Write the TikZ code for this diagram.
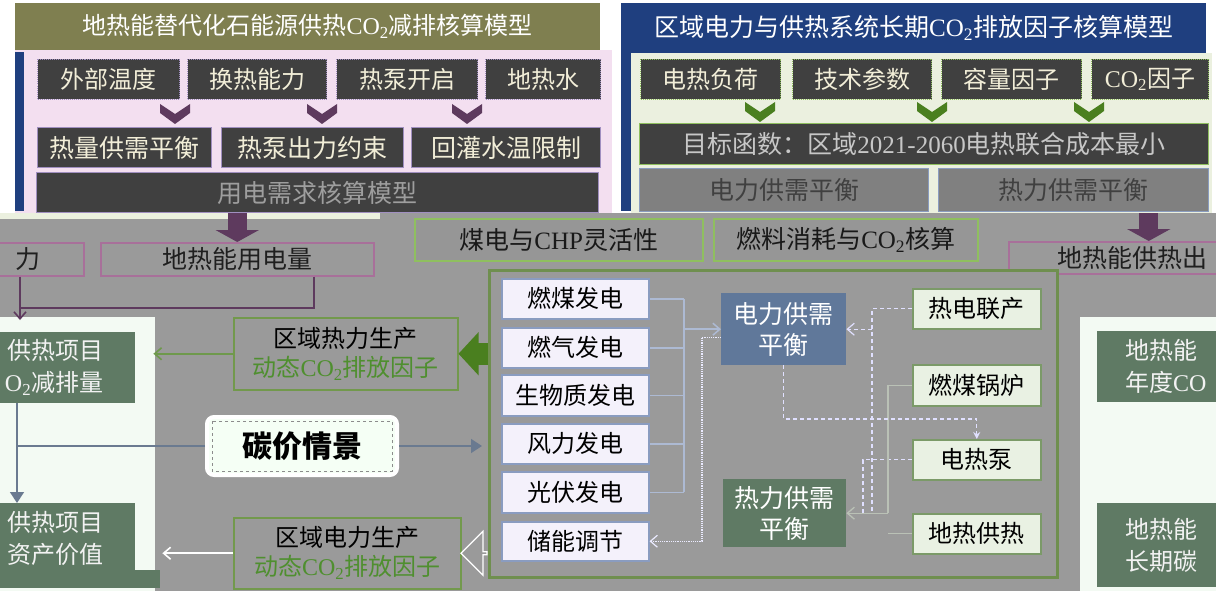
\documentclass[tikz,border=0pt]{standalone}
\usepackage{fontspec}
\setmainfont{Noto Sans CJK SC}
\newfontfamily\lat{Liberation Serif}
\usetikzlibrary{positioning,arrows.meta,shapes.arrows,calc}
\newcommand{\cotwo}{{\lat CO}\textsubscript{\lat 2}}
\definecolor{olivehd}{HTML}{7F7F50}
\definecolor{pinkbg}{HTML}{F3DFF0}
\definecolor{navyhd}{HTML}{1F3F7F}
\definecolor{greenbg}{HTML}{EBF0DF}
\definecolor{darkbox}{HTML}{404040}
\definecolor{lilac}{HTML}{A08FC0}
\definecolor{plum}{HTML}{5E3A5E}
\definecolor{leaf}{HTML}{4A7F1F}
\definecolor{midgray}{HTML}{9A9A9A}
\definecolor{boxgray}{HTML}{808080}
\definecolor{paleblue}{HTML}{F4F1FB}
\definecolor{steelline}{HTML}{8A9CC0}
\definecolor{slate}{HTML}{60789A}
\definecolor{moss}{HTML}{5F7A64}
\definecolor{mint}{HTML}{E9F1E3}
\definecolor{mossline}{HTML}{7B9A68}
\definecolor{frame}{HTML}{6F8F4F}
\definecolor{paper}{HTML}{F3FAF3}
\definecolor{rosy}{HTML}{A8709A}
\definecolor{arrowslate}{HTML}{6A7A90}
\definecolor{greentxt}{HTML}{4F8F2F}
\definecolor{cream}{HTML}{F2EED8}
\definecolor{sprout}{HTML}{8FBF5F}
\begin{document}
\begin{tikzpicture}[x=1pt,y=-1pt,
  every node/.append style={inner sep=0pt,align=center},
  wh/.style 2 args={minimum width=#1,minimum height=#2,anchor=north west},
  headbar/.style={text=white,font=\fontsize{24}{28}\selectfont},
  inbox/.style={fill=darkbox,draw=lilac,densely dotted,line width=1pt,text=cream,font=\fontsize{24}{28}\selectfont},
  rulebox/.style={fill=darkbox,draw=lilac,line width=1.2pt,text=cream,font=\fontsize{25}{28}\selectfont},
  feedbox/.style={fill=midgray,draw=rosy,line width=1.5pt,text=black!88,font=\fontsize{25}{28}\selectfont},
  flexbox/.style={fill=black!41,draw=sprout,line width=1.5pt,text=black!90,font=\fontsize{25}{28}\selectfont},
  genbox/.style={fill=paleblue,draw=steelline,line width=1.5pt,font=\fontsize{24}{28}\selectfont},
  techbox/.style={fill=mint,draw=mossline,line width=1.5pt,font=\fontsize{24}{28}\selectfont},
  prodbox/.style={fill=midgray,draw=sprout!80!black,line width=1.5pt,font=\fontsize{24}{29}\selectfont},
  resbox/.style={fill=moss,text=white!95!black,font=\fontsize{24}{32}\selectfont},
  carbonbox/.style={fill=green!4!white,draw=white,line width=4pt,rounded corners=7pt,font=\fontsize{30}{34}\selectfont\bfseries},
  plumblock/.style={draw=plum,line width=19pt,-{Triangle[length=12pt,width=43pt]}},
  leafblock/.style={draw=leaf,line width=22pt,-{Triangle[length=20pt,width=42pt]}},
  plumline/.style={draw=plum,line width=1.6pt},
  slateline/.style={draw=arrowslate,line width=1.4pt},
  busline/.style={draw=steelline!70!white,line width=1.5pt},
  dashline/.style={draw=white!88!blue,line width=1.2pt,dash pattern=on 4pt off 3pt},
  dotline/.style={draw=white!92!blue,line width=1.2pt,densely dotted},
  greenline/.style={draw=mint!80!black,line width=1.3pt},
  barb/.style={-{Straight Barb[length=7pt,width=12pt]}}]
\useasboundingbox (0,0) rectangle (1216,591);
\clip (0,0) rectangle (1216,591);

% backgrounds
\fill[midgray] (0,213) rectangle (1216,591);
\fill[greenbg] (0,213) rectangle (380,219);
\fill[paper] (0,317) rectangle (155,591);
\fill[paper] (1080,317) rectangle (1216,591);

% left model
\node[headbar,wh={585}{47},fill=olivehd] (lhead) at (15,3) {地热能替代化石能源供热\cotwo 减排核算模型};
\node[wh={597}{163},fill=pinkbg] (lpanel) at (15,50) {};
\fill[navyhd] (15,52) rectangle (24,211);
\node[inbox,wh={142}{40}] (temp) at (37,59) {外部温度};
\node[inbox,wh={139}{40}] (hex) at (187,59) {换热能力};
\node[inbox,wh={141}{40}] (hpon) at (336,59) {热泵开启};
\node[inbox,wh={115}{40}] (water) at (485,59) {地热水};
\foreach \cx in {175,322,467}
  \fill[plum] (\cx-15,104) -- (\cx,114) -- (\cx+15,104) -- (\cx+15,113) -- (\cx,124) -- (\cx-15,113) -- cycle;
\node[rulebox,wh={174}{40}] (hbal) at (37,127) {热量供需平衡};
\node[rulebox,wh={182}{40}] (hplim) at (221,127) {热泵出力约束};
\node[rulebox,wh={189}{40}] (reinj) at (411,127) {回灌水温限制};
\node[rulebox,wh={562}{40},text=black!38] (elecneed) at (36,172) {用电需求核算模型};

% right model
\node[headbar,wh={585}{50},fill=navyhd,font=\fontsize{25}{28}\selectfont] (rhead) at (621,3) {区域电力与供热系统长期\cotwo 排放因子核算模型};
\fill[navyhd] (621,53) rectangle (631,211);
\node[wh={581}{160},fill=greenbg] (rpanel) at (631,53) {};
\node[inbox,draw=sprout,wh={140}{40}] (load) at (640,59) {电热负荷};
\node[inbox,draw=sprout,wh={139}{40}] (tech) at (792,59) {技术参数};
\node[inbox,draw=sprout,wh={140}{40}] (capf) at (941,59) {容量因子};
\node[inbox,draw=sprout,wh={117}{40}] (cof) at (1091,59) {\cotwo 因子};
\foreach \cx in {760,932,1089}
  \fill[leaf] (\cx-15,102) -- (\cx,112) -- (\cx+15,102) -- (\cx+15,111) -- (\cx,122) -- (\cx-15,111) -- cycle;
\node[rulebox,draw=sprout,wh={569}{41},text=black!22] (goal) at (639,123) {目标函数：区域{\lat 2021-2060}电热联合成本最小};
\node[rulebox,fill=boxgray,draw=steelline,wh={289}{43},text=black!75] (pbal) at (639,168) {电力供需平衡};
\node[rulebox,fill=boxgray,draw=steelline,wh={270}{43},text=black!75] (qbal) at (938,168) {热力供需平衡};

% outputs of the left model
\node[feedbox,wh={206}{33},text width=120,align=right] (gout) at (-123,242) {力};
\node[feedbox,wh={273}{33}] (guse) at (100,242) {地热能用电量};
\node[feedbox,wh={280}{32},text width=182,align=left] (ghsup) at (1008,241) {地热能供热出};
\draw[plumblock] (guse.north |- lpanel.south) -- (guse.north);
\draw[plumblock] (ghsup.north |- rpanel.south) -- (ghsup.north);

% middle strip
\node[flexbox,wh={288}{42}] (flex) at (414,218) {煤电与{\lat CHP}灵活性};
\node[flexbox,wh={264}{42}] (fuel) at (713,218) {燃料消耗与\cotwo 核算};

% core dispatch model
\node[wh={568}{307},fill=midgray,draw=frame,line width=2.5pt] (core) at (488,269) {};
\node[genbox,wh={147}{40}] (coal) at (501,278) {燃煤发电};
\node[genbox,wh={147}{40}] (gas) at (501,327) {燃气发电};
\node[genbox,wh={147}{41}] (bio) at (501,374) {生物质发电};
\node[genbox,wh={147}{40}] (wind) at (501,423) {风力发电};
\node[genbox,wh={147}{41}] (pv) at (501,471) {光伏发电};
\node[genbox,wh={147}{39}] (store) at (501,521) {储能调节};
\node[wh={125}{72},fill=slate,text=white,font=\fontsize{25}{31}\selectfont] (elec) at (721,293) {电力供需\\平衡};
\node[wh={123}{68},fill=moss,text=white,font=\fontsize{25}{31}\selectfont] (heat) at (723,479) {热力供需\\平衡};
\node[techbox,wh={128}{40}] (chp) at (912,288) {热电联产};
\node[techbox,wh={128}{41}] (boil) at (912,364) {燃煤锅炉};
\node[techbox,wh={128}{40}] (hp) at (912,439) {电热泵};
\node[techbox,wh={128}{40}] (geo) at (912,513) {地热供热};

\coordinate (bus) at (684,0);
\coordinate (chpx) at (872,0);
\coordinate (boilx) at (888,0);
\coordinate (hpx) at (863,0);
\foreach \n in {coal,gas,bio,wind,pv}
  \draw[busline] (\n.east) -- (\n.east -| bus);
\draw[busline] (coal.east -| bus) -- (pv.east -| bus);
\draw[busline,barb] (elec.west -| bus) -- (elec.west);
\draw[dotline,barb] ([yshift=-8pt]elec.west) -- ++(-19,0) |- (store.east);
\draw[dashline] (chp.west) -| (heat.east -| chpx);
\draw[dashline,barb] (elec.east -| chpx) -- (elec.east);
\draw[dashline] (hp.west) -| (heat.east -| hpx);
\draw[greenline] (boil.west) -| (heat.east -| boilx);
\draw[greenline] (geo.west) -- (geo.west -| boilx);
\draw[greenline,barb] (heat.east -| boilx) -- (heat.east);
\draw[dashline,-{Stealth[length=7pt,width=7pt]}] (elec.south) |- ([yshift=20pt]hp.north) -- (hp.north);

% emission factors and project results
\node[prodbox,wh={224}{72}] (heatprod) at (233,317) {区域热力生产\\\textcolor{greentxt}{动态\cotwo 排放因子}};
\node[prodbox,wh={227}{71}] (elecprod) at (233,517) {区域电力生产\\\textcolor{greentxt}{动态\cotwo 排放因子}};
\node[carbonbox,wh={190}{58}] (carbon) at (205,415) {碳价情景};
\draw[black!45,dashed,line width=1pt] ([shift={(7pt,-6pt)}]carbon.north west) rectangle ([shift={(-7pt,6pt)}]carbon.south east);
\node[resbox,wh={232}{71},text width=168,align=right] (lsave) at (-97,332) {供热项目\\{\lat O}\textsubscript{\lat 2}减排量};
\fill[moss] (0,570) rectangle (160,588);
\node[resbox,wh={232}{70},text width=168,align=right] (lasset) at (-97,503) {供热项目\\资产价值};
\node[resbox,wh={224}{71},text width=168,align=left] (rsave) at (1097,331) {地热能\\年度{\lat CO}};
\node[resbox,wh={224}{84},text width=168,align=left] (rlong) at (1097,503) {地热能\\长期碳};

\coordinate (jn) at (20,308);
\coordinate (jn2) at (17,0);
\draw[plumline] ([xshift=77pt]guse.south) -- ([xshift=77pt]guse.south |- jn) -- (jn);
\draw[plumline,barb,shorten >=12pt] (gout.south -| jn) -- (lsave.north -| jn);
\draw[leafblock] (heatprod.east -| core.west) -- (heatprod.east);
\draw[draw=leaf!80!white,line width=1.6pt,barb,shorten >=18pt] (heatprod.west) -- (heatprod.west -| lsave.east);
\node[single arrow,shape border rotate=180,fill=midgray,draw=white,line width=1.2pt,minimum width=44,minimum height=26,single arrow head extend=8pt] (hollow) at ($(elecprod.east)!0.5!(elecprod.east -| core.west)$) {};
\draw[draw=white,line width=1.6pt,barb,shorten >=27pt] (elecprod.west) -- (elecprod.west -| lasset.east);
\draw[slateline,-{Triangle[length=11pt,width=14pt]}] (lsave.south -| jn2) -- (lasset.north -| jn2);
\draw[slateline] (carbon.west) -- (carbon.west -| jn2);
\draw[slateline,-{Triangle[length=11pt,width=14pt]},shorten >=6pt] (carbon.east) -- (carbon.east -| core.west);
\end{tikzpicture}
\end{document}
